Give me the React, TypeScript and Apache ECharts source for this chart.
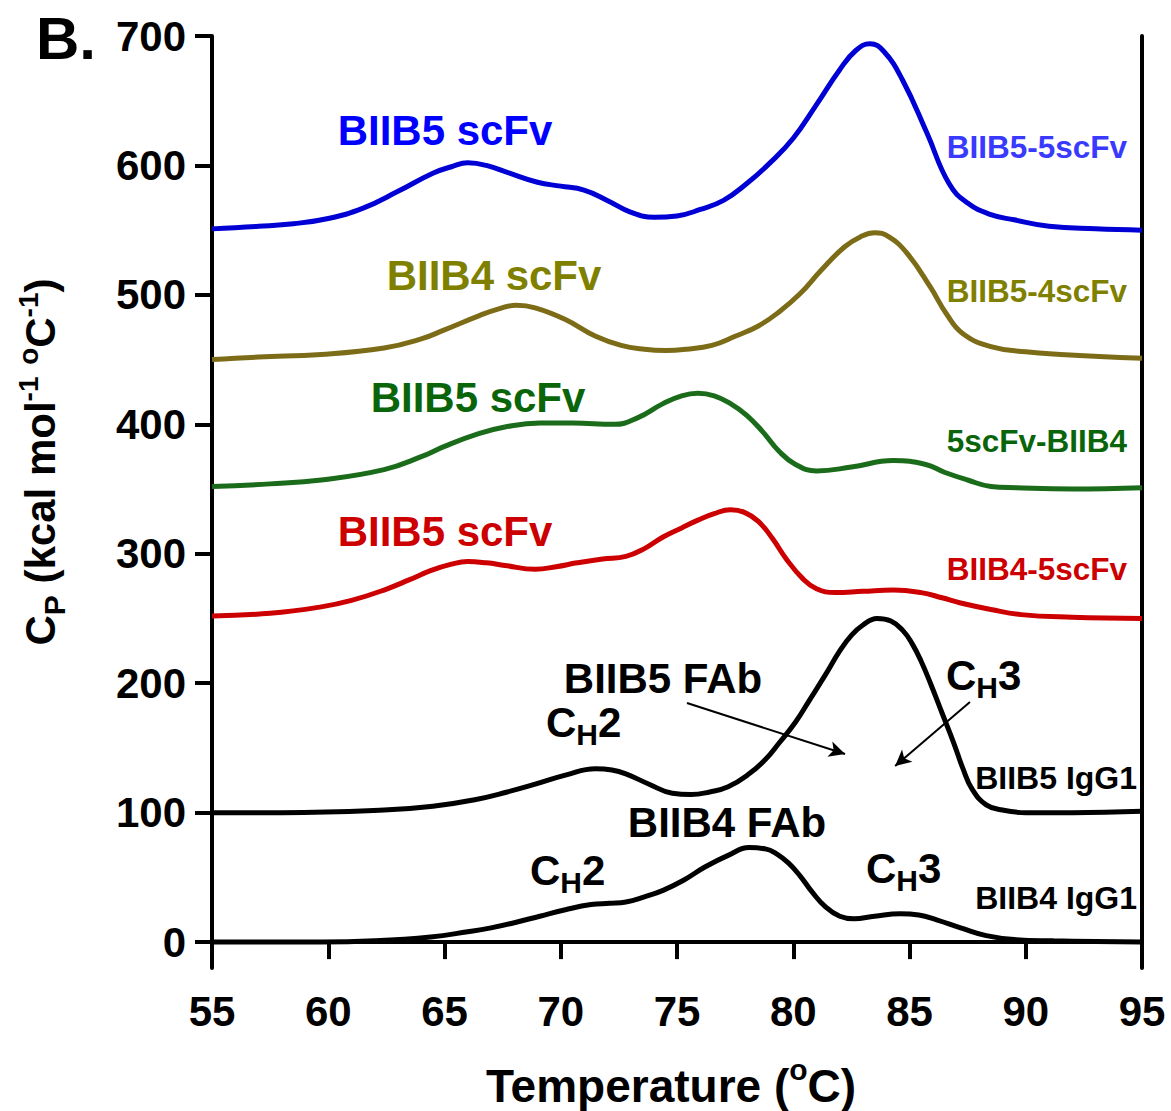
import React, { useEffect, useRef } from "react";
import * as echarts from "echarts";

const FONT = "'Liberation Sans', Arial, Helvetica, sans-serif";

const xMin = 55;
const xMax = 95;
const xInterval = 5;
const yMin = -20;
const yMax = 700;
const yTickValues = [0, 100, 200, 300, 400, 500, 600, 700];

// [temperature °C, Cp]
const biib5_5scFv: [number, number][] = [
  [55, 551], [57, 553], [58.5, 555], [60, 559], [61.5, 567], [63, 580], [64.5, 594], [65.3, 599],
  [66, 602], [66.8, 600], [67.8, 594], [69, 587], [70, 584], [71, 581], [72, 573], [73, 564],
  [74, 560], [75, 561], [76, 566], [77, 573], [78, 586], [79, 602], [80, 621], [81, 647],
  [82, 674], [82.7, 689], [83.3, 694], [83.9, 688], [84.7, 666], [85.75, 625], [86.7, 586],
  [87.5, 571], [88.5, 562], [89.5, 558], [91, 553], [93, 551], [95, 550],
];

const biib5_4scFv: [number, number][] = [
  [55, 450], [57, 452], [59.7, 454], [62.4, 459], [64, 466], [65, 473], [66.5, 484], [67.3, 489],
  [68.1, 492], [68.9, 490], [70.2, 481], [71.5, 468], [72.6, 461], [73.6, 458], [74.5, 457],
  [75.4, 458], [76.5, 461], [77.5, 468], [78.5, 476], [79.4, 487], [80.3, 501], [81.2, 519],
  [82.2, 537], [82.9, 545], [83.5, 548], [84.1, 545], [84.9, 532], [85.9, 506], [86.6, 485],
  [87.3, 470], [88.5, 460], [90, 456], [91.5, 454], [95, 451],
];

const scFv5_biib4: [number, number][] = [
  [55, 352], [57.5, 354], [59.7, 357], [62.4, 365], [64, 375], [65, 383], [66.5, 393], [67.6, 398],
  [69.1, 401], [70.5, 401], [72.3, 400], [73.3, 405], [74.4, 416], [75.2, 422], [75.9, 424],
  [76.6, 422], [77.3, 416], [78, 407], [78.7, 394], [79.4, 379], [80.1, 369], [81, 364],
  [82.5, 367], [84.3, 372], [85.7, 369], [86.5, 363], [87.5, 357], [88.5, 352], [89.6, 351],
  [92, 350], [95, 351],
];

const biib4_5scFv: [number, number][] = [
  [55, 252], [57.5, 254], [59.7, 259], [61, 264], [62.4, 272], [63.5, 280], [64.4, 287],
  [65.3, 292], [66, 294], [66.8, 293], [67.6, 291], [68.9, 288], [69.8, 290], [70.7, 293],
  [71.8, 296], [72.8, 298], [73.6, 304], [74.4, 313], [75.2, 320], [75.9, 326], [76.6, 331],
  [77.3, 334], [77.9, 332], [78.5, 325], [79.1, 312], [79.7, 296], [80.4, 281], [81, 273],
  [81.8, 270], [83, 271], [84.3, 272], [85.5, 270], [86.4, 266], [87.2, 262], [88.5, 257],
  [89.8, 253], [92, 251], [95, 250],
];

const biib5_igg1: [number, number][] = [
  [55, 100], [58, 100], [62.4, 102], [64.5, 105], [66.3, 110], [67.7, 116], [68.9, 122],
  [70.2, 129], [71.5, 134], [72.2, 133], [72.8, 130], [73.8, 122], [74.8, 115], [75.6, 114],
  [76.4, 116], [77.2, 120], [78.1, 130], [78.8, 141], [79.4, 154], [80.1, 170], [80.7, 187],
  [81.4, 207], [82, 225], [82.5, 237], [83, 245], [83.6, 250], [84.2, 248], [84.7, 241],
  [85.1, 231], [85.5, 217], [85.9, 200], [86.4, 177], [86.9, 154], [87.3, 134], [87.7, 118],
  [88.3, 106], [89, 102], [90, 100], [92, 100], [95, 101],
];

const biib4_igg1: [number, number][] = [
  [55, 0], [59.7, 0], [62, 1], [64.4, 4], [66, 8], [67, 11], [68, 15], [69.1, 20], [70.2, 25],
  [71.3, 29], [72.1, 30], [72.8, 31], [73.6, 35], [74.4, 40], [75.3, 48], [76.2, 58], [77.2, 67],
  [78.1, 73], [78.8, 72], [79.3, 68], [79.8, 61], [80.3, 51], [80.8, 39], [81.4, 27], [82, 20],
  [82.6, 18], [83.5, 20], [84.6, 22], [85.4, 21], [86.2, 17], [87.2, 11], [88.3, 5], [89.5, 2],
  [91.2, 1], [95, 0],
];

// arrows (data coordinates): BIIB5 FAb label -> Fab peak, CH3 label -> CH3 peak
const arrowFab: [number, number][] = [[75.43, 184.7], [82.23, 145.3]];
const arrowCh3: [number, number][] = [[87.6, 185.5], [84.38, 136]];

const big = { fontSize: 42, fontWeight: "bold" as const, fontFamily: FONT, lineHeight: 42, fill: "#000" };

function chLabel(num: string, left: number, y: number) {
  return {
    type: "text",
    x: left,
    y,
    style: {
      text: `{c|C}{s|H}{c|${num}}`,
      align: "left",
      verticalAlign: "middle",
      rich: {
        c: { ...big },
        s: { fontSize: 30, fontWeight: "bold", fontFamily: FONT, lineHeight: 30, padding: [25, 0, 0, 0], fill: "#000" },
      },
    },
  };
}

function txt(text: string, x: number, y: number, color: string, size: number, align: string) {
  return {
    type: "text",
    x,
    y,
    style: {
      text,
      fill: color,
      fontSize: size,
      fontWeight: "bold",
      fontFamily: FONT,
      align,
      verticalAlign: "middle",
    },
  };
}

function lineSeries(name: string, data: [number, number][], color: string, extra: any = {}) {
  return {
    type: "line",
    name,
    data,
    xAxisIndex: 0,
    yAxisIndex: 0,
    smooth: 0.45,
    symbol: "none",
    lineStyle: { color, width: 5 },
    itemStyle: { color },
    z: 3,
    ...extra,
  };
}

export default function App() {
  const ref = useRef<HTMLDivElement>(null);
  useEffect(() => {
    document.body.style.margin = "0";
    const chart = echarts.init(ref.current!, null, { renderer: "svg" });
    const axisLineStyle = { color: "#000", width: 4 };
    const option: any = {
      animation: false,
      backgroundColor: "#fff",
      grid: { left: 212, right: 29, top: 36, bottom: 143, containLabel: false, outerBoundsMode: "none" },
      xAxis: [
        {
          type: "value",
          min: xMin,
          max: xMax,
          interval: xInterval,
          position: "bottom",
          axisLine: { show: true, lineStyle: axisLineStyle },
          axisTick: { show: true, inside: false, length: 17, lineStyle: { color: "#000", width: 4 } },
          axisLabel: { show: true, margin: 22, color: "#000", fontSize: 42, fontWeight: "bold", fontFamily: FONT },
          splitLine: { show: false },
        },
        {
          type: "value",
          min: xMin,
          max: xMax,
          position: "top",
          axisLine: { show: true, lineStyle: axisLineStyle },
          axisTick: { show: false },
          axisLabel: { show: false },
          splitLine: { show: false },
        },
      ],
      yAxis: [
        {
          type: "value",
          min: yMin,
          max: yMax,
          position: "left",
          axisLine: { show: true, lineStyle: axisLineStyle },
          axisTick: { show: true, length: 17, customValues: yTickValues, lineStyle: { color: "#000", width: 4 } },
          axisLabel: {
            show: true,
            margin: 26,
            customValues: yTickValues,
            color: "#000",
            fontSize: 42,
            fontWeight: "bold",
            fontFamily: FONT,
          },
          splitLine: { show: false },
        },
        {
          type: "value",
          min: yMin,
          max: yMax,
          position: "right",
          axisLine: { show: true, lineStyle: axisLineStyle },
          axisTick: { show: false },
          axisLabel: { show: false },
          splitLine: { show: false },
        },
      ],
      series: [
        lineSeries("BIIB5-5scFv", biib5_5scFv, "#0000d4"),
        lineSeries("BIIB5-4scFv", biib5_4scFv, "#7d6c17"),
        lineSeries("5scFv-BIIB4", scFv5_biib4, "#1a6b1a"),
        lineSeries("BIIB4-5scFv", biib4_5scFv, "#cc0000"),
        lineSeries("BIIB5 IgG1", biib5_igg1, "#000000", {
          markLine: {
            silent: true,
            symbol: ["none", "arrow"],
            symbolSize: [12, 16],
            label: { show: false },
            lineStyle: { color: "#000", width: 2, type: "solid" },
            emphasis: { disabled: true },
            data: [
              [{ coord: arrowFab[0] }, { coord: arrowFab[1] }],
              [{ coord: arrowCh3[0] }, { coord: arrowCh3[1] }],
            ],
          },
        }),
        lineSeries("BIIB4 IgG1", biib4_igg1, "#000000"),
      ],
      graphic: [
        txt("B.", 36, 38, "#000", 60, "left"),
        txt("BIIB5 scFv", 445, 130, "#0000ff", 42, "center"),
        txt("BIIB4 scFv", 494, 275, "#808000", 42, "center"),
        txt("BIIB5 scFv", 478, 397, "#0a650a", 42, "center"),
        txt("BIIB5 scFv", 445, 531, "#cc0000", 42, "center"),
        txt("BIIB5-5scFv", 1127, 147, "#3a3aff", 31.5, "right"),
        txt("BIIB5-4scFv", 1127, 291, "#808000", 31.5, "right"),
        txt("5scFv-BIIB4", 1127, 441, "#0a650a", 31.5, "right"),
        txt("BIIB4-5scFv", 1127, 569, "#cc0000", 31.5, "right"),
        txt("BIIB5 IgG1", 1137, 778, "#000", 32, "right"),
        txt("BIIB4 IgG1", 1137, 898, "#000", 32, "right"),
        txt("BIIB5 FAb", 663, 678, "#000", 42, "center"),
        txt("BIIB4 FAb", 727, 822, "#000", 42, "center"),
        chLabel("2", 546, 722),
        chLabel("3", 946, 675),
        chLabel("2", 530, 870),
        chLabel("3", 866, 868),
        {
          type: "text",
          x: 671,
          y: 1086,
          style: {
            text: "{t|Temperature (}{u|o}{t|C)}",
            align: "center",
            verticalAlign: "middle",
            rich: {
              t: { fontSize: 46, fontWeight: "bold", fontFamily: FONT, lineHeight: 46, fill: "#000" },
              u: { fontSize: 30, fontWeight: "bold", fontFamily: FONT, lineHeight: 30, padding: [0, 0, 34, 0], fill: "#000" },
            },
          },
        },
        {
          type: "text",
          x: 40,
          y: 462,
          rotation: Math.PI / 2,
          style: {
            text: "{t|C}{d|P}{t| (kcal mol}{u|-1}{t| }{u|o}{t|C}{u|-1}{t|)}",
            align: "center",
            verticalAlign: "middle",
            rich: {
              t: { fontSize: 42, fontWeight: "bold", fontFamily: FONT, lineHeight: 42, fill: "#000" },
              u: { fontSize: 28, fontWeight: "bold", fontFamily: FONT, lineHeight: 28, padding: [0, 0, 24, 0], fill: "#000" },
              d: { fontSize: 30, fontWeight: "bold", fontFamily: FONT, lineHeight: 30, padding: [28, 0, 0, 0], fill: "#000" },
            },
          },
        },
      ],
    };
    chart.setOption(option);
    return () => chart.dispose();
  }, []);
  return <div ref={ref} style={{ width: 1171, height: 1111 }} />;
}
